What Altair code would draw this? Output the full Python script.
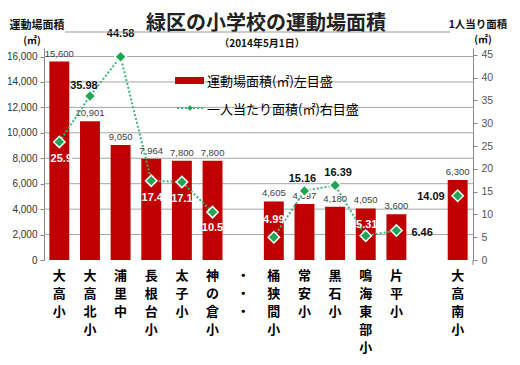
import altair as alt
import pandas as pd

# ---- data ----
schools = ["大高小", "大高北小", "浦里中", "長根台小", "太子小", "神の倉小", "・・・",
           "桶狭間小", "常安小", "黒石小", "鳴海東部小", "片平小", " ", "大高南小"]
area = [15600, 10901, 9050, 7964, 7800, 7800, None, 4605, 4397, 4180, 4050, 3600, None, 6300]
per_person = [25.9, 35.98, 44.58, 17.4, 17.1, 10.5, None, 4.99, 15.16, 16.39, 5.31, 6.46, None, 14.09]
left_ticks = [0, 2000, 4000, 6000, 8000, 10000, 12000, 14000, 16000]
right_ticks = [0, 5, 10, 15, 20, 25, 30, 35, 40, 45]

title_text = "緑区の小学校の運動場面積"
subtitle_text = "（2014年5月1日）"
left_title = ["運動場面積", "(㎡)"]
right_title = ["1人当り面積", "(㎡)"]
legend_bar = "運動場面積(㎡)左目盛"
legend_line = "一人当たり面積(㎡)右目盛"

# ---- tables ----
df = pd.DataFrame({"school": schools, "area": area, "per": per_person})
df["seg"] = df["per"].isna().cumsum()
df["per_label"] = [f"{v:g}" if pd.notna(v) else "" for v in df["per"]]
df["vlabel"] = ["\n".join(list(s)) for s in df["school"]]
line_df = df[df["per"].notna()].copy()
bar_df = df[df["area"].notna()].copy()
grid_df = pd.DataFrame({"v": left_ticks[1:]})

RED = "#c00000"
GREEN = "#1fa653"
LINE_GREEN = "#3cb878"
JP = "Noto Sans CJK JP"
NUM = "Liberation Sans"

W, H = 429, 212

xscale = alt.Scale(domain=schools, paddingInner=0.35, paddingOuter=0.175)
x_axis = alt.Axis(title=None, labels=False, bandPosition=0, tickSize=5,
                  tickColor="#888", domainColor="#888", grid=False)
x_enc = alt.X("school:N", scale=xscale, axis=x_axis)
x_noaxis = alt.X("school:N", scale=xscale, axis=None)

lscale = alt.Scale(domain=[0, 16670], nice=False)
rscale = alt.Scale(domain=[0, 46.5], nice=False)

left_axis = alt.Axis(title=None, values=left_ticks, format=",.0f", labelFont=NUM,
                     labelFontSize=10, labelColor="#333", tickSize=4, tickColor="#888",
                     domainColor="#888", grid=False, labelPadding=3)
right_axis = alt.Axis(orient="right", title=None, values=right_ticks, format=".0f",
                      labelFont=NUM, labelFontSize=10.5, labelColor="#555", tickSize=4,
                      tickColor="#888", domainColor="#888", grid=False, labelPadding=4)

gridlines = alt.Chart(grid_df).mark_rule(color="#a6a6a6", strokeWidth=1).encode(
    y=alt.Y("v:Q", scale=lscale, axis=None))

bars = alt.Chart(bar_df).mark_bar(color=RED).encode(
    x=x_enc,
    y=alt.Y("area:Q", scale=lscale, axis=left_axis),
)
bar_labels = alt.Chart(bar_df).mark_text(font=NUM, fontSize=9.5, color="#404040",
                                          baseline="middle", dy=-8).encode(
    x=x_noaxis, y=alt.Y("area:Q", scale=lscale, axis=None),
    text=alt.Text("area:Q", format=","),
)

line = alt.Chart(line_df).mark_line(color=LINE_GREEN, strokeDash=[2, 2], strokeWidth=2).encode(
    x=x_noaxis,
    y=alt.Y("per:Q", scale=rscale, axis=right_axis),
    detail="seg:N",
)
points = alt.Chart(line_df).mark_point(shape="diamond", filled=True, size=130, fill=GREEN,
                                       stroke="white", strokeWidth=1.5, opacity=1).encode(
    x=x_noaxis, y=alt.Y("per:Q", scale=rscale, axis=None),
)

# label placement (dx, dy, colour, align) per school
placement = {
    "大高小": (2, 17, "white", "center"),
    "大高北小": (-6, -10, "#111", "center"),
    "浦里中": (0, -23, "#111", "center"),
    "長根台小": (1, 17, "white", "center"),
    "太子小": (0, 17, "white", "center"),
    "神の倉小": (0, 16, "white", "center"),
    "桶狭間小": (0, -17, "white", "center"),
    "常安小": (-2, -12, "#111", "center"),
    "黒石小": (3, -12, "#111", "center"),
    "鳴海東部小": (1, -11, "white", "center"),
    "片平小": (15, 2, "#111", "left"),
    "大高南小": (-13, 1, "#111", "right"),
}
label_layers = []
for s, (dx, dy, col, al) in placement.items():
    label_layers.append(
        alt.Chart(line_df).transform_filter(alt.datum.school == s).mark_text(
            font=NUM, fontSize=11, fontWeight="bold", color=col, align=al,
            baseline="middle", dx=dx, dy=dy).encode(
            x=x_noaxis, y=alt.Y("per:Q", scale=rscale, axis=None), text="per_label:N")
    )

# category labels, written vertically one character per line
cat_labels = alt.Chart(df).mark_text(font=JP, fontSize=13, fontWeight="bold", color="#000",
                                     lineBreak="\n", lineHeight=18, baseline="top",
                                     align="center").encode(
    x=x_noaxis, y=alt.value(H + 10), text="vlabel:N")

# ---- decorations (titles, legend) ----
one = pd.DataFrame({"k": [0]})
base = alt.Chart(one)


def txt(t, x, y, size, weight="normal", align="center", color="#111", font=JP):
    return base.mark_text(font=font, fontSize=size, fontWeight=weight, align=align,
                          baseline="middle", color=color).encode(
        x=alt.value(x), y=alt.value(y), text=alt.value(t))


decor = [
    txt(title_text, 222, -24, 20, "bold", color="#222"),
    base.mark_rule(color="#999", strokeWidth=1).encode(
        x=alt.value(21), x2=alt.value(406), y=alt.value(-16)),
    txt(subtitle_text, 218, -4, 10, "bold"),
    txt(left_title[0], -7, -22, 11, "bold"),
    txt(left_title[1], -12, -7, 10, "bold"),
    txt(right_title[0], 434, -23, 10.5, "bold"),
    txt(right_title[1], 439, -8, 10, "bold"),
    base.mark_rect(color=RED).encode(x=alt.value(131), x2=alt.value(160),
                                     y=alt.value(29), y2=alt.value(36)),
    txt(legend_bar, 163, 34, 13, align="left", color="#000"),
    base.mark_rule(color=LINE_GREEN, strokeDash=[2, 2], strokeWidth=2).encode(
        x=alt.value(133), x2=alt.value(159), y=alt.value(60)),
    base.mark_point(shape="diamond", filled=True, size=30, fill=GREEN, opacity=1).encode(
        x=alt.value(146), y=alt.value(60)),
    txt(legend_line, 163, 62, 13, align="left", color="#000"),
    base.mark_rule(color="#888").encode(x=alt.value(W), y=alt.value(H), y2=alt.value(H + 5)),
]

chart = alt.layer(gridlines, bars, bar_labels, line, points, *label_layers, cat_labels, *decor
                  ).resolve_scale(y="independent").properties(
    width=W, height=H,
    padding={"left": 36, "top": 40, "right": 39, "bottom": 97},
    autosize=alt.AutoSizeParams(type="none"),
).configure_view(stroke=None)

chart.save("out.html", embed_options={"renderer": "svg", "actions": False})
